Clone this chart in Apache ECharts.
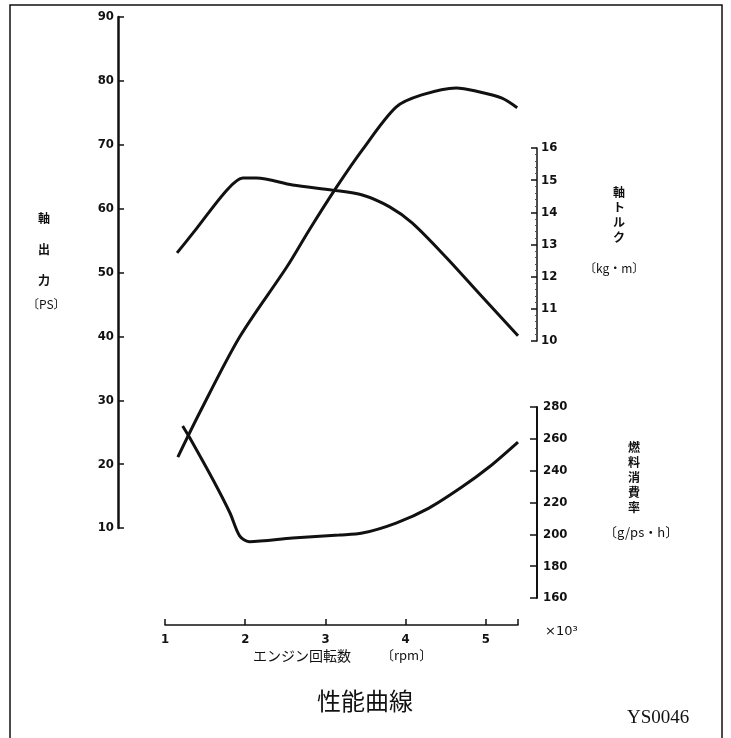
<!DOCTYPE html>
<html>
<head>
<meta charset="utf-8">
<script src="https://cdn.jsdelivr.net/npm/echarts@6/dist/echarts.min.js"></script>
<style>html,body{margin:0;padding:0;background:#fff;}#c{width:731px;height:738px;}</style>
</head>
<body>
<div id="c"></div>
<script>
// rpm (x1000) for each curve
const powerRpm = [1.16, 1.43, 1.93, 2.52, 2.80, 3.14, 3.46, 3.88, 4.20, 4.63, 4.91, 5.20, 5.39];
const powerPS  = [21.1, 28.0, 39.9, 50.9, 56.7, 63.4, 69.2, 75.9, 77.8, 78.9, 78.3, 77.3, 75.8];

const torqueRpm = [1.15, 1.35, 1.77, 1.97, 2.14, 2.59, 3.09, 3.46, 3.80, 4.08, 4.50, 4.91, 5.40];
const torqueKgm = [12.74, 13.36, 14.69, 15.07, 15.07, 14.85, 14.69, 14.54, 14.17, 13.67, 12.61, 11.49, 10.16];

const fuelRpm = [1.22, 1.31, 1.60, 1.81, 1.93, 2.05, 2.59, 3.17, 3.46, 3.88, 4.29, 4.70, 5.04, 5.40];
const fuelGps = [268.1, 260.5, 234.1, 213.4, 199.0, 195.4, 197.7, 199.6, 200.8, 207.1, 216.5, 229.7, 242.3, 258.0];

const xTicks = [1, 2, 3, 4, 5];
const psTicks = [10, 20, 30, 40, 50, 60, 70, 80, 90];
const torqueTicks = [10, 11, 12, 13, 14, 15, 16];
const fuelTicks = [160, 180, 200, 220, 240, 260, 280];

const pair = (xs, ys) => xs.map((x, i) => [x, ys[i]]);

const numFont = {fontFamily: 'Liberation Sans Narrow, DejaVu Sans Condensed, sans-serif', fontWeight: 'bold', fontSize: 13, color: '#111'};

const chart = echarts.init(document.getElementById('c'));
const hiddenX = (g) => ({gridIndex: g, type: 'value', min: 1, max: 5.4, show: false});
const lineStyle = {color: '#111', width: 3};

chart.setOption({
  animation: false,
  backgroundColor: '#fff',
  grid: [
    {left: 165, width: 353, top: 17, height: 511},
    {left: 165, width: 353, top: 148, height: 193},
    {left: 165, width: 353, top: 407, height: 191}
  ],
  xAxis: [
    hiddenX(0), hiddenX(1),
    {gridIndex: 2, type: 'value', min: 1, max: 5.4, position: 'bottom', offset: 27,
     axisLine: {show: true, lineStyle: {color: '#111', width: 1.5}},
     axisTick: {show: true, inside: true, length: 6, lineStyle: {color: '#111', width: 1.5},
                customValues: xTicks.concat([5.4])},
     axisLabel: {customValues: xTicks, margin: 8, ...numFont},
     splitLine: {show: false}}
  ],
  yAxis: [
    {gridIndex: 0, type: 'value', min: 10, max: 90, interval: 10, position: 'left', offset: 47,
     axisLine: {show: true, lineStyle: {color: '#111', width: 2.5}},
     axisTick: {show: true, inside: true, length: 6, lineStyle: {color: '#111', width: 1.5}},
     axisLabel: {margin: 4, ...numFont},
     splitLine: {show: false}},
    {gridIndex: 1, type: 'value', min: 10, max: 16, interval: 1, position: 'right', offset: 19,
     axisLine: {show: true, lineStyle: {color: '#111', width: 1.5}},
     axisTick: {show: true, inside: true, length: 6, lineStyle: {color: '#111', width: 1.5}},
     minorTick: {show: true, splitNumber: 5, length: 2, lineStyle: {color: '#555', width: 1}},
     axisLabel: {margin: 4, ...numFont},
     splitLine: {show: false}},
    {gridIndex: 2, type: 'value', min: 160, max: 280, interval: 20, position: 'right', offset: 19,
     axisLine: {show: true, lineStyle: {color: '#111', width: 2}},
     axisTick: {show: true, inside: true, length: 7, lineStyle: {color: '#111', width: 1.5}},
     axisLabel: {margin: 6, ...numFont},
     splitLine: {show: false}}
  ],
  series: [
    {name: '軸出力', type: 'line', xAxisIndex: 0, yAxisIndex: 0, data: pair(powerRpm, powerPS),
     smooth: 0.3, showSymbol: false, lineStyle, clip: false},
    {name: '軸トルク', type: 'line', xAxisIndex: 1, yAxisIndex: 1, data: pair(torqueRpm, torqueKgm),
     smooth: 0.3, showSymbol: false, lineStyle, clip: false},
    {name: '燃料消費率', type: 'line', xAxisIndex: 2, yAxisIndex: 2, data: pair(fuelRpm, fuelGps),
     smooth: 0.3, showSymbol: false, lineStyle, clip: false}
  ],
  graphic: [
    {type: 'rect', shape: {x: 10, y: 5, width: 712, height: 745}, style: {fill: 'none', stroke: '#111', lineWidth: 1.5}, silent: true},
    {type: 'text', left: 38, top: 203, style: {text: '軸\n出\n力', font: 'bold 12px "Noto Sans CJK JP"', lineHeight: 31, fill: '#111'}},
    {type: 'text', left: 27, top: 298, style: {text: '〔PS〕', font: '12px "Noto Sans CJK JP"', fill: '#111'}},
    {type: 'text', left: 613, top: 185, style: {text: '軸\nト\nル\nク', font: 'bold 12px "Noto Sans CJK JP"', lineHeight: 15, fill: '#111'}},
    {type: 'text', left: 584, top: 262, style: {text: '〔kg・m〕', font: '12px "Noto Sans CJK JP"', fill: '#111'}},
    {type: 'text', left: 628, top: 440, style: {text: '燃\n料\n消\n費\n率', font: 'bold 12px "Noto Sans CJK JP"', lineHeight: 15, fill: '#111'}},
    {type: 'text', left: 604, top: 526, style: {text: '〔g/ps・h〕', font: '13px "Noto Sans CJK JP"', fill: '#111'}},
    {type: 'text', left: 545, top: 625, style: {text: '×10³', font: '13px "DejaVu Sans"', fill: '#111'}},
    {type: 'text', left: 253, top: 649, style: {text: 'エンジン回転数', font: '14px "Noto Sans CJK JP"', fill: '#111'}},
    {type: 'text', left: 381, top: 649, style: {text: '〔rpm〕', font: '13px "Noto Sans CJK JP"', fill: '#111'}},
    {type: 'text', left: 317, top: 689, style: {text: '性能曲線', font: '24px "Noto Sans CJK JP"', fill: '#111'}},
    {type: 'text', left: 627, top: 709, style: {text: 'YS0046', font: '19px "Liberation Serif"', fill: '#111'}}
  ]
});
</script>
</body>
</html>
